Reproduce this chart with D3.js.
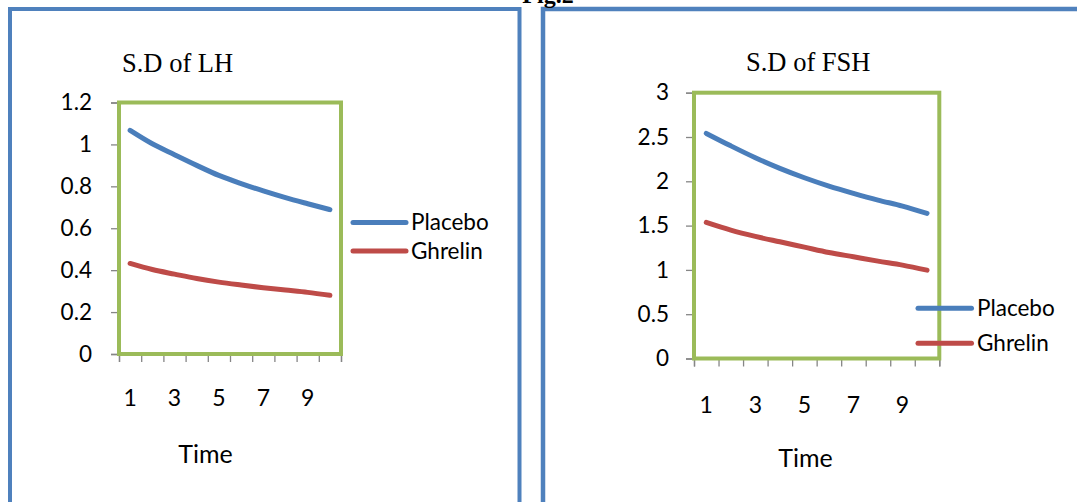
<!DOCTYPE html>
<html>
<head>
<meta charset="utf-8">
<script src="https://cdn.jsdelivr.net/npm/d3@7"></script>
<style>
  body { margin: 0; background: #fff; }
  svg { display: block; }
</style>
</head>
<body>
<div id="chart"></div>
<script>
// Data
const timePoints = [1, 2, 3, 4, 5, 6, 7, 8, 9, 10];
const seriesNames = ["Placebo", "Ghrelin"];
const lhPlacebo = [1.067, 1.003, 0.951, 0.9, 0.852, 0.813, 0.778, 0.746, 0.717, 0.689];
const lhGhrelin = [0.432, 0.403, 0.381, 0.36, 0.343, 0.329, 0.316, 0.305, 0.294, 0.28];
const fshPlacebo = [2.541, 2.4, 2.266, 2.146, 2.04, 1.946, 1.864, 1.788, 1.72, 1.638];
const fshGhrelin = [1.536, 1.449, 1.378, 1.317, 1.257, 1.197, 1.148, 1.099, 1.054, 0.997];
const lhTicks = [0, 0.2, 0.4, 0.6, 0.8, 1, 1.2];
const fshTicks = [0, 0.5, 1, 1.5, 2, 2.5, 3];
const xLabels = [1, 3, 5, 7, 9];

const W = 1077, H = 502;
const BLUE = "#4a7ebb", RED = "#be4b48", FRAME = "#4f81bd", GREEN = "#9bbb59", GREY = "#868686";
const SANS = "Lato, 'Liberation Sans', sans-serif";
const SERIF = "'Liberation Serif', 'Times New Roman', serif";

const svg = d3.select("#chart").append("svg")
  .attr("width", W)
  .attr("height", H);

svg.append("rect").attr("width", W).attr("height", H).attr("fill", "#fff");

// Outer panel frames (they run off the page)
svg.append("rect")
  .attr("x", 10).attr("y", 9).attr("width", 509.5).attr("height", 520)
  .attr("fill", "none").attr("stroke", FRAME).attr("stroke-width", 4);
svg.append("rect")
  .attr("x", 543).attr("y", 9).attr("width", 560).attr("height", 520)
  .attr("fill", "none").attr("stroke", FRAME).attr("stroke-width", 4.5);

// figure caption, cut by the top edge as in the source
svg.append("text")
  .attr("x", 548).attr("y", 3)
  .attr("text-anchor", "middle")
  .attr("font-family", SERIF).attr("font-weight", "bold").attr("font-size", 24)
  .text("Fig.2");

function drawChart(cfg) {
  const { left, right, top, bottom } = cfg.plot;
  const g = svg.append("g");

  const y = d3.scaleLinear().domain([0, cfg.yMax]).range([bottom, top]);
  const xBand = d3.scaleBand().domain(timePoints).range([left, right]);
  const xEdge = d3.scaleLinear().domain([0, timePoints.length]).range([left, right]);

  // y axis
  const yAxis = g.append("g")
    .attr("transform", `translate(${left},0)`)
    .call(d3.axisLeft(y).tickValues(cfg.yTicks).tickSize(8).tickPadding(cfg.yPad)
      .tickFormat(d3.format("~g")));
  yAxis.select(".domain").attr("stroke", GREY).attr("stroke-width", 1.3);
  yAxis.selectAll(".tick line").attr("stroke", GREY).attr("stroke-width", 1.3);
  yAxis.selectAll(".tick text")
    .attr("font-family", SANS).attr("font-size", 22.5).attr("fill", "#000");

  // x axis: tick marks between categories
  const xTicks = g.append("g")
    .attr("transform", `translate(0,${bottom})`)
    .call(d3.axisBottom(xEdge).tickValues(d3.range(0, timePoints.length + 1))
      .tickSize(8).tickFormat(""));
  xTicks.select(".domain").attr("stroke", GREY).attr("stroke-width", 1.3);
  xTicks.selectAll(".tick line").attr("stroke", GREY).attr("stroke-width", 1.3);

  // x labels on odd categories
  const xLab = g.append("g")
    .attr("transform", `translate(0,${bottom})`)
    .call(d3.axisBottom(xBand).tickValues(xLabels).tickSize(0).tickPadding(cfg.xPad));
  xLab.select(".domain").remove();
  xLab.selectAll(".tick text")
    .attr("font-family", SANS).attr("font-size", 23).attr("fill", "#000");

  // plot area border
  g.append("rect")
    .attr("x", left).attr("y", top)
    .attr("width", right - left).attr("height", bottom - top)
    .attr("fill", "none").attr("stroke", GREEN).attr("stroke-width", 4);

  const line = d3.line()
    .x((d, i) => xBand(timePoints[i]) + xBand.bandwidth() / 2)
    .y(d => y(d))
    .curve(d3.curveMonotoneX);

  [cfg.placebo, cfg.ghrelin].forEach((vals, i) => {
    g.append("path")
      .datum(vals)
      .attr("d", line)
      .attr("fill", "none")
      .attr("stroke", i === 0 ? BLUE : RED)
      .attr("stroke-width", 5)
      .attr("stroke-linecap", "round")
      .attr("stroke-linejoin", "round");
  });

  // title
  g.append("text")
    .attr("x", cfg.title.x).attr("y", cfg.title.y)
    .attr("font-family", SERIF).attr("font-size", 26.5)
    .text(cfg.title.text);

  // x axis title
  g.append("text")
    .attr("x", cfg.xTitle.x).attr("y", cfg.xTitle.y)
    .attr("text-anchor", "middle")
    .attr("font-family", SANS).attr("font-size", 25)
    .text("Time");

  // legend
  seriesNames.forEach((name, i) => {
    const ly = cfg.legend.y[i];
    g.append("line")
      .attr("x1", cfg.legend.x1).attr("x2", cfg.legend.x2)
      .attr("y1", ly).attr("y2", ly)
      .attr("stroke", i === 0 ? BLUE : RED)
      .attr("stroke-width", 5)
      .attr("stroke-linecap", "round");
    g.append("text")
      .attr("x", cfg.legend.tx).attr("y", ly + 7.5)
      .attr("font-family", SANS).attr("font-size", 22.5)
      .text(name);
  });
}

drawChart({
  plot: { left: 119, right: 341, top: 102.5, bottom: 354 },
  yMax: 1.2, yTicks: lhTicks, yPad: 19, xPad: 36,
  placebo: lhPlacebo, ghrelin: lhGhrelin,
  title: { text: "S.D of LH", x: 122, y: 71.5 },
  xTitle: { x: 205.5, y: 463 },
  legend: { x1: 353, x2: 406, tx: 411, y: [222.5, 251] }
});

drawChart({
  plot: { left: 694, right: 939.3, top: 92.7, bottom: 358.5 },
  yMax: 3, yTicks: fshTicks, yPad: 17, xPad: 38,
  placebo: fshPlacebo, ghrelin: fshGhrelin,
  title: { text: "S.D of FSH", x: 746, y: 70.5 },
  xTitle: { x: 805.5, y: 467 },
  legend: { x1: 918, x2: 971.5, tx: 977, y: [308.3, 343.3] }
});
</script>
</body>
</html>
